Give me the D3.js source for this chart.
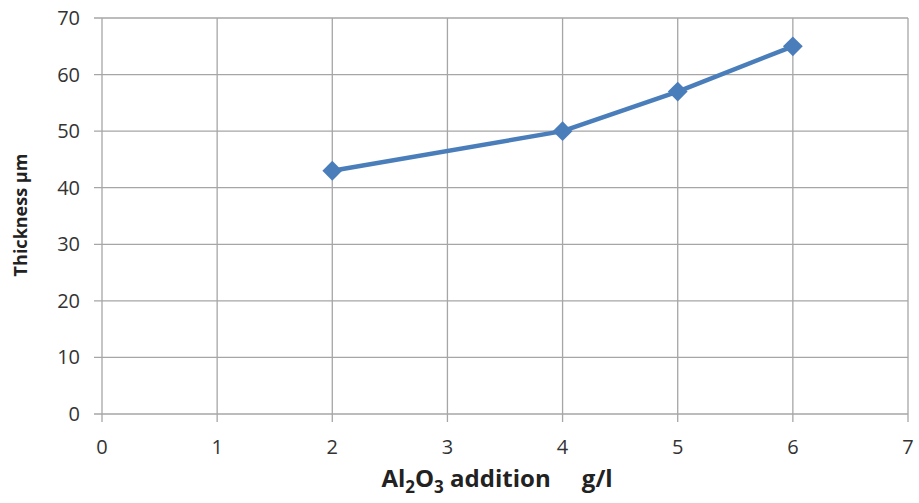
<!DOCTYPE html>
<html>
<head>
<meta charset="utf-8">
<script src="https://cdn.jsdelivr.net/npm/d3@7"></script>
<style>
  body { margin: 0; background: #fff; }
  svg { display: block; font-family: "Open Sans", sans-serif; }
</style>
</head>
<body>
<svg id="chart" width="919" height="503"></svg>
<script>
const additions = [2, 4, 5, 6];
const thickness = [43, 50, 57, 65];
const xTicks = [0, 1, 2, 3, 4, 5, 6, 7];
const yTicks = [0, 10, 20, 30, 40, 50, 60, 70];

(() => {
  const width = 919;
  const height = 503;
  const margin = { top: 18, right: 11, bottom: 89, left: 102 };
  const innerWidth = width - margin.left - margin.right;
  const innerHeight = height - margin.top - margin.bottom;
  const gridColor = "#a6a6a6";
  const lineColor = "#4a7ebb";

  const svg = d3.select("#chart");
  const g = svg.append("g")
    .attr("transform", `translate(${margin.left}, ${margin.top})`);

  const x = d3.scaleLinear().domain([0, 7]).range([0, innerWidth]);
  const y = d3.scaleLinear().domain([0, 70]).range([innerHeight, 0]);

  // grid
  g.selectAll(".hgrid")
    .data(yTicks)
    .join("line")
    .attr("x1", -8)
    .attr("x2", innerWidth)
    .attr("y1", d => y(d))
    .attr("y2", d => y(d))
    .attr("stroke", gridColor)
    .attr("stroke-width", 1.3);

  g.selectAll(".vgrid")
    .data(xTicks)
    .join("line")
    .attr("x1", d => x(d))
    .attr("x2", d => x(d))
    .attr("y1", 0)
    .attr("y2", innerHeight + 8)
    .attr("stroke", gridColor)
    .attr("stroke-width", 1.3);

  // tick labels
  g.selectAll(".ylab")
    .data(yTicks)
    .join("text")
    .attr("x", -22)
    .attr("y", d => y(d))
    .attr("dy", "0.35em")
    .attr("text-anchor", "end")
    .attr("fill", "#333")
    .style("font-size", "20px")
    .text(d => d);

  g.selectAll(".xlab")
    .data(xTicks)
    .join("text")
    .attr("x", d => x(d))
    .attr("y", innerHeight + 33)
    .attr("dy", "0.35em")
    .attr("text-anchor", "middle")
    .attr("fill", "#333")
    .style("font-size", "20px")
    .text(d => d);

  // axis titles
  const xt = svg.append("text")
    .attr("x", 497)
    .attr("y", 487)
    .attr("text-anchor", "middle")
    .attr("fill", "#222")
    .style("font-size", "24px")
    .style("font-weight", "bold");
  xt.append("tspan").text("Al");
  xt.append("tspan").attr("dy", 6).style("font-size", "17px").text("2");
  xt.append("tspan").attr("dy", -6).text("O");
  xt.append("tspan").attr("dy", 6).style("font-size", "17px").text("3");
  xt.append("tspan").attr("dy", -6).attr("xml:space", "preserve").text(" addition     g/l");

  svg.append("text")
    .attr("transform", "translate(27, 215) rotate(-90)")
    .attr("text-anchor", "middle")
    .attr("fill", "#222")
    .style("font-size", "18px")
    .style("font-weight", "bold")
    .text("Thickness µm");

  // series
  const data = additions.map((a, i) => ({ a, t: thickness[i] }));

  const line = d3.line()
    .x(d => x(d.a))
    .y(d => y(d.t));

  g.append("path")
    .datum(data)
    .attr("fill", "none")
    .attr("stroke", lineColor)
    .attr("stroke-width", 4.5)
    .attr("stroke-linejoin", "round")
    .attr("d", line);

  g.selectAll(".pt")
    .data(data)
    .join("path")
    .attr("transform", d => `translate(${x(d.a)}, ${y(d.t)})`)
    .attr("d", d3.symbol(d3.symbolDiamond2, 250)())
    .attr("fill", lineColor);
})();
</script>
</body>
</html>
